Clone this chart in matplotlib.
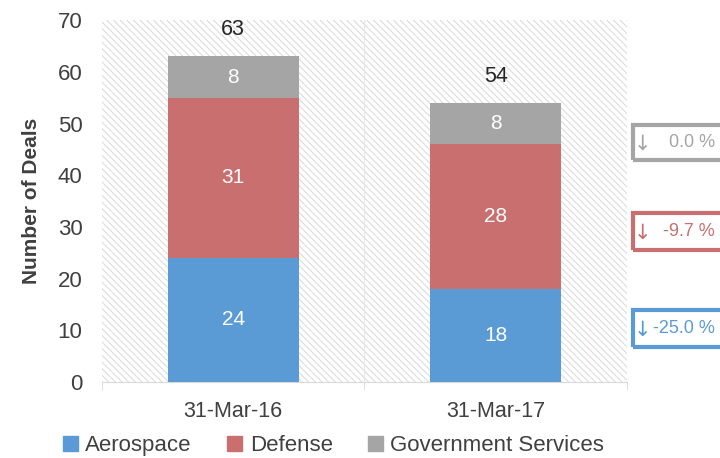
import numpy as np
import matplotlib.pyplot as plt
from matplotlib.patches import Patch, Rectangle

plt.rcParams['font.family'] = ['Liberation Sans Narrow', 'Liberation Sans', 'DejaVu Sans']
plt.rcParams['hatch.color'] = '#dcdcdc'
plt.rcParams['hatch.linewidth'] = 0.8

# data
categories = ['31-Mar-16', '31-Mar-17']
aerospace = [24, 18]
defense = [31, 28]
government = [8, 8]
totals = [63, 54]
series_names = ['Aerospace', 'Defense', 'Government Services']
changes = ['0.0 %', '-9.7 %', '-25.0 %']

colors = ['#5B9BD5', '#C96F6F', '#A5A5A5']
text_dark = '#404040'

fig = plt.figure(figsize=(7.2, 4.58), dpi=100)
ax = fig.add_axes([0.1417, 0.166, 0.729, 0.790])

ax.patch.set_facecolor('white')
ax.patch.set_hatch('\\\\\\\\\\')
ax.patch.set_edgecolor('#dcdcdc')
ax.patch.set_linewidth(0)

x = np.arange(len(categories))
w = 0.5
b1 = ax.bar(x, aerospace, w, color=colors[0], zorder=3)
b2 = ax.bar(x, defense, w, bottom=aerospace, color=colors[1], zorder=3)
bottom3 = np.array(aerospace) + np.array(defense)
b3 = ax.bar(x, government, w, bottom=bottom3, color=colors[2], zorder=3)

for bars, vals, bots in [(b1, aerospace, [0, 0]), (b2, defense, aerospace), (b3, government, bottom3)]:
    for bar, v, bt in zip(bars, vals, bots):
        ax.text(bar.get_x() + bar.get_width() / 2, bt + v / 2, str(v),
                ha='center', va='center', color='white', fontsize=15, zorder=4)

for xi, t in zip(x, totals):
    ax.annotate(str(t), (xi, t), xytext=(0, 19), textcoords='offset points',
                ha='center', va='center', color='#262626', fontsize=15.5)

ax.set_xlim(-0.5, 1.5)
ax.set_ylim(0, 70)
ax.set_yticks(range(0, 71, 10))
ax.set_xticks(x)
ax.set_xticklabels(categories)
ax.set_xticks([-0.5, 0.5, 1.5], minor=True)
ax.tick_params(axis='x', which='major', length=0, pad=14, labelsize=15.5, labelcolor=text_dark)
ax.tick_params(axis='x', which='minor', length=6, color='#d9d9d9')
ax.tick_params(axis='y', length=0, pad=14, labelsize=16, labelcolor=text_dark)
ax.axvline(0.5, color='#e8e8e8', lw=0.8, zorder=1)

for s in ['top', 'right', 'left']:
    ax.spines[s].set_visible(False)
ax.spines['bottom'].set_color('#d9d9d9')

ax.set_ylabel('Number of Deals', fontsize=15, fontweight='bold', color=text_dark, labelpad=12)

# change boxes at the right (boxes run off the right edge, as in the original)
box_lo = [42.9, 25.5, 6.8]
box_hi = [49.7, 32.7, 13.9]
box_colors = [colors[2], colors[1], colors[0]]
for lo, hi, txt, c in zip(box_lo, box_hi, changes, box_colors):
    ax.add_patch(Rectangle((1.523, lo), 0.5, hi - lo, fill=False, ec=c, lw=3,
                           clip_on=False, zorder=5))
    ax.text(1.527, (lo + hi) / 2 - 0.3, '\u2193', ha='left', va='center', family='DejaVu Sans',
            color=c, fontsize=15, clip_on=False)
    ax.text(1.836, (lo + hi) / 2, txt, ha='right', va='center',
            color=c, fontsize=13, clip_on=False)

handles = [Patch(color=c) for c in colors]
fig.legend(handles, series_names, loc='lower left', bbox_to_anchor=(0.06, -0.04), ncol=3,
           frameon=False, fontsize=16, handlelength=0.65, handleheight=0.65,
           handletextpad=0.35, columnspacing=1.6, labelcolor=text_dark)

fig.savefig('out.png', dpi=100)
